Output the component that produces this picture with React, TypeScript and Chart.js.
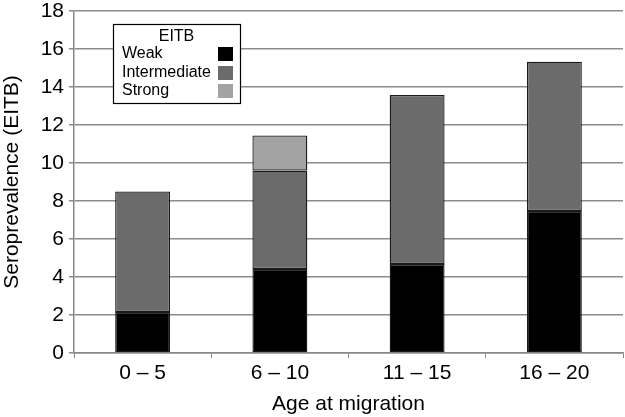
import React, { useEffect, useRef } from "react";
import { Chart, registerables } from "chart.js";

Chart.register(...registerables);

const categories = ["0 \u2013 5", "6 \u2013 10", "11 \u2013 15", "16 \u2013 20"];
const weak = [2.16, 4.42, 4.68, 7.47];
const intermediate = [6.34, 5.18, 8.9, 7.86];
const strong = [0, 1.85, 0, 0];
const seriesNames = ["Weak", "Intermediate", "Strong"];
const seriesColors = ["#000000", "#6b6b6b", "#a3a3a3"];
const legendTitle = "EITB";
const yTitle = "Seroprevalence (EITB)";
const xTitle = "Age at migration";

const FONT = "'Liberation Sans', Arial, Helvetica, sans-serif";

const legendPlugin = {
  id: "boxLegend",
  afterDatasetsDraw(chart: any) {
    const ctx = chart.ctx;
    ctx.save();
    const x0 = 113, y0 = 24, w = 127, h = 79;
    ctx.fillStyle = "#ffffff";
    ctx.fillRect(x0, y0, w, h);
    ctx.strokeStyle = "#000000";
    ctx.lineWidth = 1.2;
    ctx.strokeRect(x0 + 0.5, y0 + 0.5, w, h);
    ctx.fillStyle = "#000";
    ctx.font = `16px ${FONT}`;
    ctx.textAlign = "center";
    ctx.textBaseline = "alphabetic";
    ctx.fillText(legendTitle, x0 + w / 2, 41);
    ctx.textAlign = "left";
    const baselines = [58, 77, 95];
    const swTop = [47, 66, 84];
    seriesNames.forEach((n, i) => {
      ctx.fillStyle = "#000";
      ctx.fillText(n, 122, baselines[i]);
      ctx.fillStyle = seriesColors[i];
      ctx.fillRect(218, swTop[i], 15, 14);
    });
    ctx.restore();
  },
};

export default function App() {
  const ref = useRef<HTMLCanvasElement>(null);
  useEffect(() => {
    document.body.style.margin = "0";
    const data = [weak, intermediate, strong];
    const chart = new Chart(ref.current as HTMLCanvasElement, {
      type: "bar",
      data: {
        labels: categories,
        datasets: seriesNames.map((n, i) => ({
          label: n,
          data: data[i],
          backgroundColor: seriesColors[i],
          borderColor: "#1a1a1a",
          borderWidth: 1.3,
          borderSkipped: false,
          barPercentage: 0.4,
          categoryPercentage: 1,
        })),
      },
      options: {
        animation: false,
        responsive: false,
        maintainAspectRatio: false,
        layout: { padding: { top: 0, right: 2, left: 0, bottom: 0 } },
        plugins: { legend: { display: false }, tooltip: { enabled: false } },
        scales: {
          x: {
            stacked: true,
            offset: true,
            grid: {
              offset: true,
              drawOnChartArea: false,
              drawTicks: true,
              tickLength: 5,
              color: "#888888",
            },
            border: { color: "#888888", width: 1.5 },
            ticks: { color: "#000", font: { family: FONT, size: 21 }, padding: 3 },
            title: {
              display: true,
              text: xTitle,
              color: "#000",
              font: { family: FONT, size: 21 },
              padding: { top: 0, bottom: 0 },
            },
            afterFit: (s: any) => { s.height = 64; s.paddingLeft = 0; s.paddingRight = 0; },
          },
          y: {
            stacked: true,
            min: 0,
            max: 18,
            grid: { color: "#8c8c8c", lineWidth: 1.5, tickLength: 5, drawTicks: true },
            border: { color: "#888888", width: 1.5 },
            ticks: {
              stepSize: 2,
              color: "#000",
              font: { family: FONT, size: 21 },
              padding: 5,
            },
            title: {
              display: true,
              text: yTitle,
              color: "#000",
              font: { family: FONT, size: 21 },
              padding: { top: 0, bottom: 4 },
            },
            afterFit: (s: any) => { s.width = 74; s.paddingTop = 11; s.paddingBottom = 0; },
          },
        },
      },
      plugins: [legendPlugin],
    });
    return () => chart.destroy();
  }, []);
  return (
    <div style={{ width: 625, height: 417 }}>
      <canvas ref={ref} width={625} height={417} style={{ display: "block" }} />
    </div>
  );
}
